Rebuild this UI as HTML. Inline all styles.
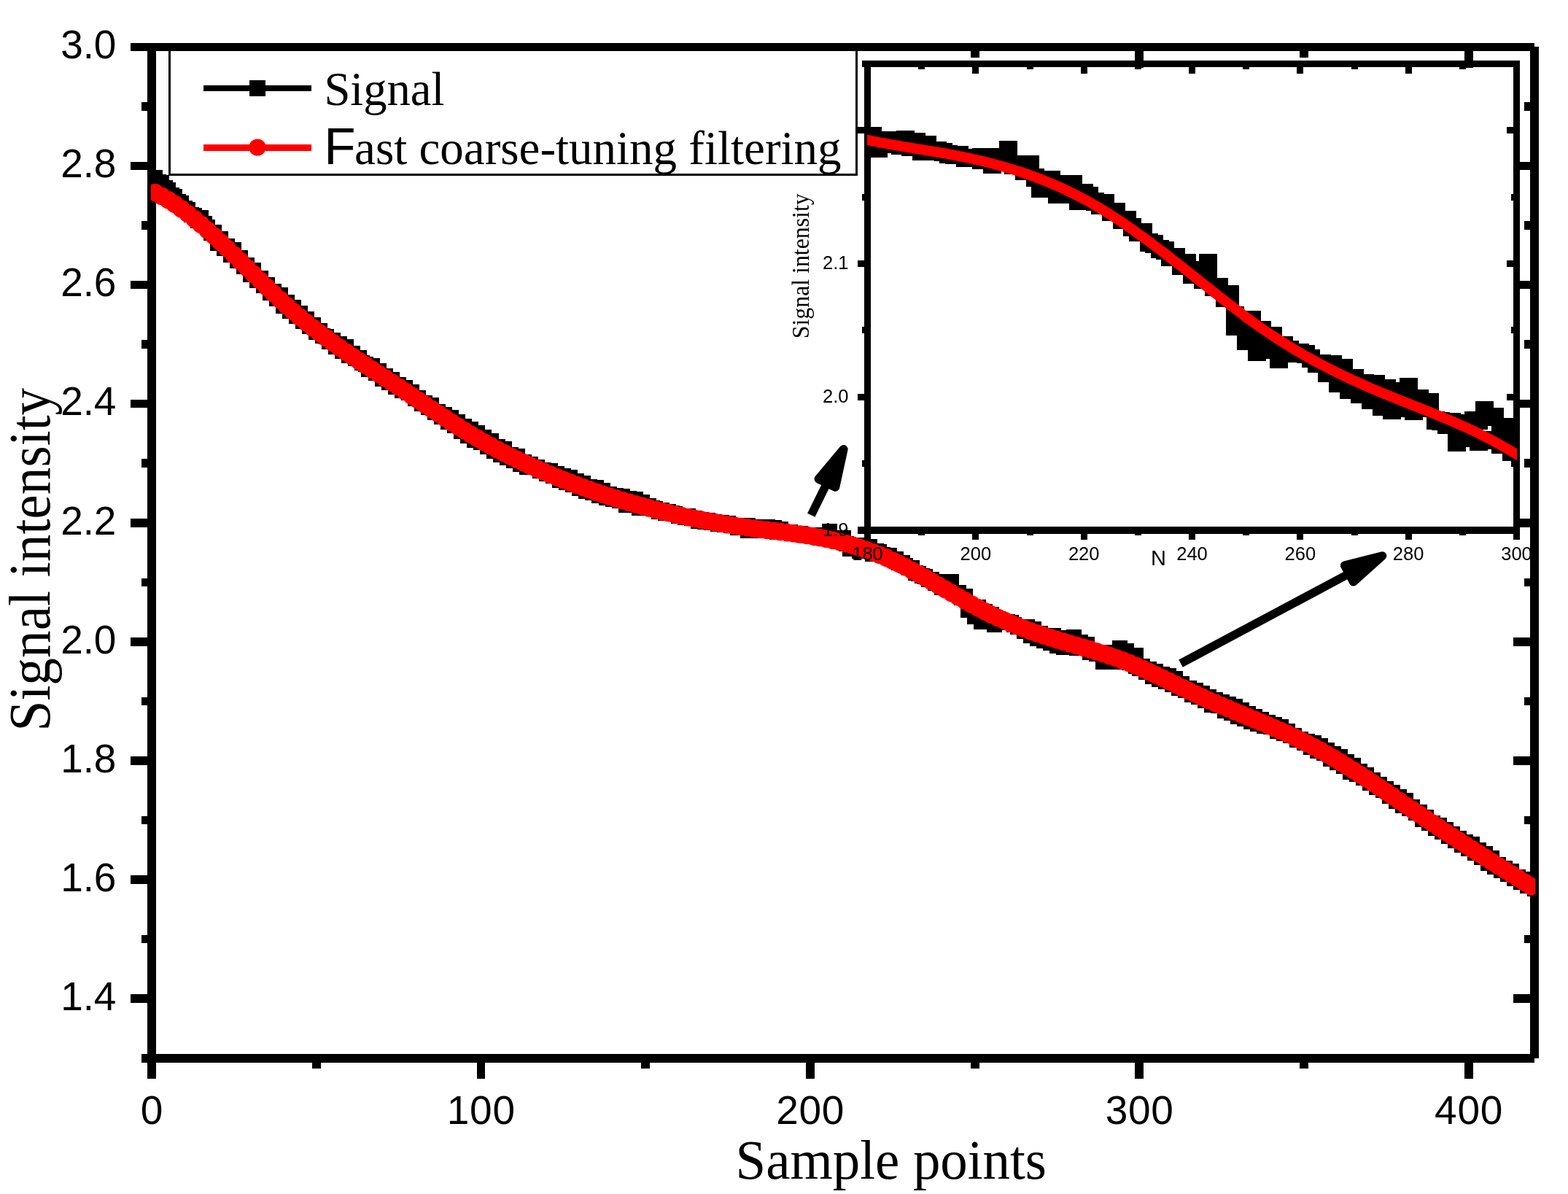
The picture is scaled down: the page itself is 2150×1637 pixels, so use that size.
<!DOCTYPE html>
<html lang="en">
<head>
<meta charset="utf-8">
<title>Signal intensity vs sample points</title>
<style>
html,body{margin:0;padding:0;background:#fff;}
body{width:2150px;height:1637px;overflow:hidden;}
svg{display:block;}
text{fill:#000;}
.sa{font-family:"Liberation Sans", Arial, Helvetica, sans-serif;}
.se{font-family:"Liberation Serif", "Times New Roman", Times, serif;}
</style>
</head>
<body>
<svg xmlns="http://www.w3.org/2000/svg" width="2150" height="1637" viewBox="0 0 2150 1637">
<rect width="2150" height="1637" fill="#fff"/>
<g id="main-axes" shape-rendering="crispEdges">
<rect x="202" y="59" width="1901.8" height="10.8" fill="#000"/>
<rect x="202" y="1445" width="1901.8" height="11.9" fill="#000"/>
<rect x="202" y="59" width="11.9" height="1397.9" fill="#000"/>
<rect x="2098" y="64" width="11.9" height="1387" fill="#000"/>
<rect x="179" y="59" width="24" height="10.8" fill="#000"/>
<rect x="2075" y="59" width="24" height="10.8" fill="#000"/>
<rect x="194" y="140.1" width="9" height="11.6" fill="#000"/>
<rect x="2090" y="140.1" width="9" height="11.6" fill="#000"/>
<rect x="179" y="221.7" width="24" height="11.6" fill="#000"/>
<rect x="2075" y="221.7" width="24" height="11.6" fill="#000"/>
<rect x="194" y="303.2" width="9" height="11.6" fill="#000"/>
<rect x="2090" y="303.2" width="9" height="11.6" fill="#000"/>
<rect x="179" y="384.8" width="24" height="11.6" fill="#000"/>
<rect x="2075" y="384.8" width="24" height="11.6" fill="#000"/>
<rect x="194" y="466.3" width="9" height="11.6" fill="#000"/>
<rect x="2090" y="466.3" width="9" height="11.6" fill="#000"/>
<rect x="179" y="547.8" width="24" height="11.6" fill="#000"/>
<rect x="2075" y="547.8" width="24" height="11.6" fill="#000"/>
<rect x="194" y="629.4" width="9" height="11.6" fill="#000"/>
<rect x="2090" y="629.4" width="9" height="11.6" fill="#000"/>
<rect x="179" y="710.9" width="24" height="11.6" fill="#000"/>
<rect x="2075" y="710.9" width="24" height="11.6" fill="#000"/>
<rect x="194" y="792.5" width="9" height="11.6" fill="#000"/>
<rect x="2090" y="792.5" width="9" height="11.6" fill="#000"/>
<rect x="179" y="874" width="24" height="11.6" fill="#000"/>
<rect x="2075" y="874" width="24" height="11.6" fill="#000"/>
<rect x="194" y="955.5" width="9" height="11.6" fill="#000"/>
<rect x="2090" y="955.5" width="9" height="11.6" fill="#000"/>
<rect x="179" y="1037.1" width="24" height="11.6" fill="#000"/>
<rect x="2075" y="1037.1" width="24" height="11.6" fill="#000"/>
<rect x="194" y="1118.6" width="9" height="11.6" fill="#000"/>
<rect x="2090" y="1118.6" width="9" height="11.6" fill="#000"/>
<rect x="179" y="1200.2" width="24" height="11.6" fill="#000"/>
<rect x="2075" y="1200.2" width="24" height="11.6" fill="#000"/>
<rect x="194" y="1281.7" width="9" height="11.6" fill="#000"/>
<rect x="2090" y="1281.7" width="9" height="11.6" fill="#000"/>
<rect x="179" y="1363.2" width="24" height="11.6" fill="#000"/>
<rect x="2075" y="1363.2" width="24" height="11.6" fill="#000"/>
<rect x="194" y="1445" width="9" height="11.9" fill="#000"/>
<rect x="2090" y="1445" width="9" height="11.9" fill="#000"/>
<rect x="202" y="1455.9" width="11.9" height="22.9" fill="#000"/>
<rect x="202" y="68.8" width="11.9" height="23.9" fill="#000"/>
<rect x="427.8" y="1455.9" width="11.9" height="9" fill="#000"/>
<rect x="427.8" y="68.8" width="11.9" height="10" fill="#000"/>
<rect x="653.5" y="1455.9" width="11.9" height="22.9" fill="#000"/>
<rect x="653.5" y="68.8" width="11.9" height="23.9" fill="#000"/>
<rect x="879.2" y="1455.9" width="11.9" height="9" fill="#000"/>
<rect x="879.2" y="68.8" width="11.9" height="10" fill="#000"/>
<rect x="1104.9" y="1455.9" width="11.9" height="22.9" fill="#000"/>
<rect x="1104.9" y="68.8" width="11.9" height="23.9" fill="#000"/>
<rect x="1330.6" y="1455.9" width="11.9" height="9" fill="#000"/>
<rect x="1330.6" y="68.8" width="11.9" height="10" fill="#000"/>
<rect x="1556.3" y="1455.9" width="11.9" height="22.9" fill="#000"/>
<rect x="1556.3" y="68.8" width="11.9" height="23.9" fill="#000"/>
<rect x="1782" y="1455.9" width="11.9" height="9" fill="#000"/>
<rect x="1782" y="68.8" width="11.9" height="10" fill="#000"/>
<rect x="2007.7" y="1455.9" width="11.9" height="22.9" fill="#000"/>
<rect x="2007.7" y="68.8" width="11.9" height="23.9" fill="#000"/>
</g>
<defs><clipPath id="cm"><rect x="206.9" y="64.4" width="1898.2" height="1386.6"/></clipPath><clipPath id="ci"><rect x="1189" y="87.5" width="891.1" height="639.5"/></clipPath></defs>
<g id="main-data" clip-path="url(#cm)">
<g id="signal" fill="#000" shape-rendering="crispEdges">
<rect x="202" y="232.9" width="21" height="21"/>
<rect x="206.5" y="239.2" width="21" height="21"/>
<rect x="211" y="240.2" width="21" height="21"/>
<rect x="215.6" y="246.8" width="21" height="21"/>
<rect x="220.1" y="249.9" width="21" height="21"/>
<rect x="224.6" y="256.8" width="21" height="21"/>
<rect x="229.1" y="258.7" width="21" height="21"/>
<rect x="233.6" y="265.9" width="21" height="21"/>
<rect x="238.1" y="267.6" width="21" height="21"/>
<rect x="242.6" y="274.9" width="21" height="21"/>
<rect x="247.2" y="276.7" width="21" height="21"/>
<rect x="251.7" y="284.2" width="21" height="21"/>
<rect x="256.2" y="284.6" width="21" height="21"/>
<rect x="260.7" y="292.3" width="21" height="21"/>
<rect x="265.2" y="287.7" width="21" height="21"/>
<rect x="269.7" y="295.6" width="21" height="21"/>
<rect x="274.2" y="301.1" width="21" height="21"/>
<rect x="278.8" y="309.2" width="21" height="21"/>
<rect x="283.3" y="308" width="21" height="21"/>
<rect x="287.8" y="323.1" width="21" height="21"/>
<rect x="292.3" y="316.8" width="21" height="21"/>
<rect x="296.8" y="329.7" width="21" height="21"/>
<rect x="301.3" y="326.6" width="21" height="21"/>
<rect x="305.8" y="339" width="21" height="21"/>
<rect x="310.4" y="332.4" width="21" height="21"/>
<rect x="314.9" y="347.1" width="21" height="21"/>
<rect x="319.4" y="342.5" width="21" height="21"/>
<rect x="323.9" y="355" width="21" height="21"/>
<rect x="328.4" y="352.5" width="21" height="21"/>
<rect x="332.9" y="366.3" width="21" height="21"/>
<rect x="337.4" y="360.4" width="21" height="21"/>
<rect x="342" y="374" width="21" height="21"/>
<rect x="346.5" y="371.1" width="21" height="21"/>
<rect x="351" y="381" width="21" height="21"/>
<rect x="355.5" y="379.7" width="21" height="21"/>
<rect x="360" y="390.7" width="21" height="21"/>
<rect x="364.5" y="388.7" width="21" height="21"/>
<rect x="369" y="399" width="21" height="21"/>
<rect x="373.6" y="393.6" width="21" height="21"/>
<rect x="378.1" y="408.5" width="21" height="21"/>
<rect x="382.6" y="403.8" width="21" height="21"/>
<rect x="387.1" y="415.7" width="21" height="21"/>
<rect x="391.6" y="411.2" width="21" height="21"/>
<rect x="396.1" y="423.4" width="21" height="21"/>
<rect x="400.6" y="418.9" width="21" height="21"/>
<rect x="405.2" y="430.2" width="21" height="21"/>
<rect x="409.7" y="427.3" width="21" height="21"/>
<rect x="414.2" y="437.2" width="21" height="21"/>
<rect x="418.7" y="434.6" width="21" height="21"/>
<rect x="423.2" y="444.9" width="21" height="21"/>
<rect x="427.7" y="443.3" width="21" height="21"/>
<rect x="432.2" y="450.4" width="21" height="21"/>
<rect x="436.8" y="451.2" width="21" height="21"/>
<rect x="441.3" y="458.3" width="21" height="21"/>
<rect x="445.8" y="456.4" width="21" height="21"/>
<rect x="450.3" y="464.7" width="21" height="21"/>
<rect x="454.8" y="460.7" width="21" height="21"/>
<rect x="459.3" y="470.5" width="21" height="21"/>
<rect x="463.8" y="464.7" width="21" height="21"/>
<rect x="468.4" y="477.2" width="21" height="21"/>
<rect x="472.9" y="473.7" width="21" height="21"/>
<rect x="477.4" y="480.9" width="21" height="21"/>
<rect x="481.9" y="480.2" width="21" height="21"/>
<rect x="486.4" y="487" width="21" height="21"/>
<rect x="490.9" y="489" width="21" height="21"/>
<rect x="495.4" y="495.8" width="21" height="21"/>
<rect x="499.9" y="491.3" width="21" height="21"/>
<rect x="504.5" y="500.5" width="21" height="21"/>
<rect x="509" y="498.3" width="21" height="21"/>
<rect x="513.5" y="509.2" width="21" height="21"/>
<rect x="518" y="504.6" width="21" height="21"/>
<rect x="522.5" y="514.3" width="21" height="21"/>
<rect x="527" y="509.9" width="21" height="21"/>
<rect x="531.5" y="519.9" width="21" height="21"/>
<rect x="536.1" y="516.7" width="21" height="21"/>
<rect x="540.6" y="525.3" width="21" height="21"/>
<rect x="545.1" y="520.7" width="21" height="21"/>
<rect x="549.6" y="528.2" width="21" height="21"/>
<rect x="554.1" y="527.2" width="21" height="21"/>
<rect x="558.6" y="535.7" width="21" height="21"/>
<rect x="563.1" y="534.9" width="21" height="21"/>
<rect x="567.7" y="543.4" width="21" height="21"/>
<rect x="572.2" y="542.4" width="21" height="21"/>
<rect x="576.7" y="548.1" width="21" height="21"/>
<rect x="581.2" y="544.5" width="21" height="21"/>
<rect x="585.7" y="554.9" width="21" height="21"/>
<rect x="590.2" y="554.3" width="21" height="21"/>
<rect x="594.7" y="561" width="21" height="21"/>
<rect x="599.3" y="558" width="21" height="21"/>
<rect x="603.8" y="567.9" width="21" height="21"/>
<rect x="608.3" y="561.9" width="21" height="21"/>
<rect x="612.8" y="573" width="21" height="21"/>
<rect x="617.3" y="567.6" width="21" height="21"/>
<rect x="621.8" y="581.2" width="21" height="21"/>
<rect x="626.3" y="574" width="21" height="21"/>
<rect x="630.9" y="587.3" width="21" height="21"/>
<rect x="635.4" y="578.4" width="21" height="21"/>
<rect x="639.9" y="592.5" width="21" height="21"/>
<rect x="644.4" y="583.1" width="21" height="21"/>
<rect x="648.9" y="596" width="21" height="21"/>
<rect x="653.4" y="589" width="21" height="21"/>
<rect x="657.9" y="602.4" width="21" height="21"/>
<rect x="662.5" y="594.2" width="21" height="21"/>
<rect x="667" y="607.9" width="21" height="21"/>
<rect x="671.5" y="602" width="21" height="21"/>
<rect x="676" y="612.6" width="21" height="21"/>
<rect x="680.5" y="604.9" width="21" height="21"/>
<rect x="685" y="616.8" width="21" height="21"/>
<rect x="689.5" y="612.7" width="21" height="21"/>
<rect x="694.1" y="621.1" width="21" height="21"/>
<rect x="698.6" y="614.9" width="21" height="21"/>
<rect x="703.1" y="625.6" width="21" height="21"/>
<rect x="707.6" y="622.5" width="21" height="21"/>
<rect x="712.1" y="629.7" width="21" height="21"/>
<rect x="716.6" y="625.8" width="21" height="21"/>
<rect x="721.1" y="630.3" width="21" height="21"/>
<rect x="725.7" y="629.8" width="21" height="21"/>
<rect x="730.2" y="635.1" width="21" height="21"/>
<rect x="734.7" y="634" width="21" height="21"/>
<rect x="739.2" y="639.4" width="21" height="21"/>
<rect x="743.7" y="635.2" width="21" height="21"/>
<rect x="748.2" y="642.1" width="21" height="21"/>
<rect x="752.7" y="638.7" width="21" height="21"/>
<rect x="757.3" y="648" width="21" height="21"/>
<rect x="761.8" y="641.6" width="21" height="21"/>
<rect x="766.3" y="650.8" width="21" height="21"/>
<rect x="770.8" y="644" width="21" height="21"/>
<rect x="775.3" y="654.2" width="21" height="21"/>
<rect x="779.8" y="649.1" width="21" height="21"/>
<rect x="784.3" y="658.6" width="21" height="21"/>
<rect x="788.9" y="652.4" width="21" height="21"/>
<rect x="793.4" y="662.5" width="21" height="21"/>
<rect x="797.9" y="657.3" width="21" height="21"/>
<rect x="802.4" y="665" width="21" height="21"/>
<rect x="806.9" y="658.1" width="21" height="21"/>
<rect x="811.4" y="668.9" width="21" height="21"/>
<rect x="815.9" y="662.1" width="21" height="21"/>
<rect x="820.5" y="671.7" width="21" height="21"/>
<rect x="825" y="666.8" width="21" height="21"/>
<rect x="829.5" y="674" width="21" height="21"/>
<rect x="834" y="669" width="21" height="21"/>
<rect x="838.5" y="675.8" width="21" height="21"/>
<rect x="843" y="669.9" width="21" height="21"/>
<rect x="847.5" y="681.7" width="21" height="21"/>
<rect x="852.1" y="672.5" width="21" height="21"/>
<rect x="856.6" y="681.9" width="21" height="21"/>
<rect x="861.1" y="674" width="21" height="21"/>
<rect x="865.6" y="685.8" width="21" height="21"/>
<rect x="870.1" y="678" width="21" height="21"/>
<rect x="874.6" y="684.5" width="21" height="21"/>
<rect x="879.1" y="683.3" width="21" height="21"/>
<rect x="883.7" y="686.4" width="21" height="21"/>
<rect x="888.2" y="687.3" width="21" height="21"/>
<rect x="892.7" y="690.5" width="21" height="21"/>
<rect x="897.2" y="688.5" width="21" height="21"/>
<rect x="901.7" y="693.3" width="21" height="21"/>
<rect x="906.2" y="691.1" width="21" height="21"/>
<rect x="910.7" y="693.3" width="21" height="21"/>
<rect x="915.3" y="693.5" width="21" height="21"/>
<rect x="919.8" y="697.4" width="21" height="21"/>
<rect x="924.3" y="696.5" width="21" height="21"/>
<rect x="928.8" y="698.5" width="21" height="21"/>
<rect x="933.3" y="697.3" width="21" height="21"/>
<rect x="937.8" y="699.9" width="21" height="21"/>
<rect x="942.3" y="699.7" width="21" height="21"/>
<rect x="946.9" y="703.5" width="21" height="21"/>
<rect x="951.4" y="702.4" width="21" height="21"/>
<rect x="955.9" y="704.6" width="21" height="21"/>
<rect x="960.4" y="703.1" width="21" height="21"/>
<rect x="964.9" y="706.1" width="21" height="21"/>
<rect x="969.4" y="704.7" width="21" height="21"/>
<rect x="973.9" y="707.5" width="21" height="21"/>
<rect x="978.5" y="705.9" width="21" height="21"/>
<rect x="983" y="709" width="21" height="21"/>
<rect x="987.5" y="707.1" width="21" height="21"/>
<rect x="992" y="710.2" width="21" height="21"/>
<rect x="996.5" y="709.8" width="21" height="21"/>
<rect x="1001" y="713" width="21" height="21"/>
<rect x="1005.5" y="711.7" width="21" height="21"/>
<rect x="1010.1" y="713.3" width="21" height="21"/>
<rect x="1014.6" y="709.7" width="21" height="21"/>
<rect x="1014.6" y="717.1" width="21" height="21"/>
<rect x="1019.1" y="712.2" width="21" height="21"/>
<rect x="1019.1" y="717.1" width="21" height="21"/>
<rect x="1023.6" y="712.2" width="21" height="21"/>
<rect x="1023.6" y="714.6" width="21" height="21"/>
<rect x="1028.1" y="712.2" width="21" height="21"/>
<rect x="1028.1" y="714.6" width="21" height="21"/>
<rect x="1032.6" y="712.2" width="21" height="21"/>
<rect x="1032.6" y="714.6" width="21" height="21"/>
<rect x="1037.1" y="712.2" width="21" height="21"/>
<rect x="1037.1" y="715.3" width="21" height="21"/>
<rect x="1041.6" y="711.9" width="21" height="21"/>
<rect x="1041.6" y="715.3" width="21" height="21"/>
<rect x="1046.2" y="713.3" width="21" height="21"/>
<rect x="1046.2" y="716.2" width="21" height="21"/>
<rect x="1050.7" y="713.3" width="21" height="21"/>
<rect x="1050.7" y="716.2" width="21" height="21"/>
<rect x="1055.2" y="715.1" width="21" height="21"/>
<rect x="1055.2" y="718.9" width="21" height="21"/>
<rect x="1059.7" y="715.1" width="21" height="21"/>
<rect x="1059.7" y="718.9" width="21" height="21"/>
<rect x="1064.2" y="718.7" width="21" height="21"/>
<rect x="1068.7" y="718.7" width="21" height="21"/>
<rect x="1073.2" y="719.4" width="21" height="21"/>
<rect x="1077.8" y="720.9" width="21" height="21"/>
<rect x="1082.3" y="721.4" width="21" height="21"/>
<rect x="1086.8" y="721.4" width="21" height="21"/>
<rect x="1091.3" y="723" width="21" height="21"/>
<rect x="1095.8" y="723" width="21" height="21"/>
<rect x="1100.3" y="723" width="21" height="21"/>
<rect x="1104.8" y="722.6" width="21" height="21"/>
<rect x="1104.8" y="724.2" width="21" height="21"/>
<rect x="1109.4" y="722.6" width="21" height="21"/>
<rect x="1109.4" y="724.2" width="21" height="21"/>
<rect x="1113.9" y="722.6" width="21" height="21"/>
<rect x="1113.9" y="726.9" width="21" height="21"/>
<rect x="1118.4" y="722.6" width="21" height="21"/>
<rect x="1118.4" y="725.3" width="21" height="21"/>
<rect x="1122.9" y="722.6" width="21" height="21"/>
<rect x="1122.9" y="725.3" width="21" height="21"/>
<rect x="1127.4" y="718.2" width="21" height="21"/>
<rect x="1127.4" y="725.3" width="21" height="21"/>
<rect x="1131.9" y="727.4" width="21" height="21"/>
<rect x="1136.4" y="727.4" width="21" height="21"/>
<rect x="1141" y="727.1" width="21" height="21"/>
<rect x="1141" y="731.1" width="21" height="21"/>
<rect x="1145.5" y="727.1" width="21" height="21"/>
<rect x="1145.5" y="731.1" width="21" height="21"/>
<rect x="1150" y="735" width="21" height="21"/>
<rect x="1154.5" y="736.5" width="21" height="21"/>
<rect x="1154.5" y="741.8" width="21" height="21"/>
<rect x="1159" y="736.5" width="21" height="21"/>
<rect x="1159" y="741.8" width="21" height="21"/>
<rect x="1163.5" y="736.5" width="21" height="21"/>
<rect x="1163.5" y="741.8" width="21" height="21"/>
<rect x="1168" y="739.3" width="21" height="21"/>
<rect x="1168" y="745.4" width="21" height="21"/>
<rect x="1172.6" y="739.3" width="21" height="21"/>
<rect x="1172.6" y="745.4" width="21" height="21"/>
<rect x="1177.1" y="739.3" width="21" height="21"/>
<rect x="1177.1" y="745.4" width="21" height="21"/>
<rect x="1181.6" y="739.3" width="21" height="21"/>
<rect x="1181.6" y="745.4" width="21" height="21"/>
<rect x="1186.1" y="744.5" width="21" height="21"/>
<rect x="1186.1" y="749.4" width="21" height="21"/>
<rect x="1190.6" y="744.5" width="21" height="21"/>
<rect x="1190.6" y="749.4" width="21" height="21"/>
<rect x="1195.1" y="746.3" width="21" height="21"/>
<rect x="1195.1" y="749.4" width="21" height="21"/>
<rect x="1199.6" y="749.9" width="21" height="21"/>
<rect x="1204.2" y="750.7" width="21" height="21"/>
<rect x="1204.2" y="752.3" width="21" height="21"/>
<rect x="1208.7" y="750.7" width="21" height="21"/>
<rect x="1208.7" y="752.3" width="21" height="21"/>
<rect x="1213.2" y="756.2" width="21" height="21"/>
<rect x="1217.7" y="756.2" width="21" height="21"/>
<rect x="1222.2" y="761.1" width="21" height="21"/>
<rect x="1226.7" y="761.1" width="21" height="21"/>
<rect x="1231.2" y="765.4" width="21" height="21"/>
<rect x="1235.8" y="768.4" width="21" height="21"/>
<rect x="1240.3" y="768.4" width="21" height="21"/>
<rect x="1244.8" y="774.9" width="21" height="21"/>
<rect x="1249.3" y="775.5" width="21" height="21"/>
<rect x="1253.8" y="778.7" width="21" height="21"/>
<rect x="1258.3" y="779.9" width="21" height="21"/>
<rect x="1262.8" y="783.6" width="21" height="21"/>
<rect x="1267.4" y="783.6" width="21" height="21"/>
<rect x="1271.9" y="787.3" width="21" height="21"/>
<rect x="1271.9" y="789.1" width="21" height="21"/>
<rect x="1276.4" y="787.3" width="21" height="21"/>
<rect x="1276.4" y="789.1" width="21" height="21"/>
<rect x="1280.9" y="791.8" width="21" height="21"/>
<rect x="1280.9" y="794.5" width="21" height="21"/>
<rect x="1285.4" y="791.8" width="21" height="21"/>
<rect x="1285.4" y="794.5" width="21" height="21"/>
<rect x="1289.9" y="791.8" width="21" height="21"/>
<rect x="1289.9" y="797.6" width="21" height="21"/>
<rect x="1294.4" y="787.3" width="21" height="21"/>
<rect x="1294.4" y="797.6" width="21" height="21"/>
<rect x="1299" y="801.8" width="21" height="21"/>
<rect x="1303.5" y="801.8" width="21" height="21"/>
<rect x="1308" y="806.5" width="21" height="21"/>
<rect x="1308" y="808.7" width="21" height="21"/>
<rect x="1312.5" y="806.5" width="21" height="21"/>
<rect x="1312.5" y="808.7" width="21" height="21"/>
<rect x="1317" y="819.5" width="21" height="21"/>
<rect x="1317" y="826" width="21" height="21"/>
<rect x="1321.5" y="822.1" width="21" height="21"/>
<rect x="1321.5" y="826" width="21" height="21"/>
<rect x="1326" y="822.1" width="21" height="21"/>
<rect x="1326" y="834.9" width="21" height="21"/>
<rect x="1330.6" y="822.1" width="21" height="21"/>
<rect x="1330.6" y="834.9" width="21" height="21"/>
<rect x="1335.1" y="828.4" width="21" height="21"/>
<rect x="1335.1" y="841.8" width="21" height="21"/>
<rect x="1339.6" y="828.4" width="21" height="21"/>
<rect x="1339.6" y="840.4" width="21" height="21"/>
<rect x="1344.1" y="831.9" width="21" height="21"/>
<rect x="1344.1" y="840.4" width="21" height="21"/>
<rect x="1348.6" y="831.9" width="21" height="21"/>
<rect x="1348.6" y="840.4" width="21" height="21"/>
<rect x="1353.1" y="837.7" width="21" height="21"/>
<rect x="1353.1" y="846" width="21" height="21"/>
<rect x="1357.6" y="837.7" width="21" height="21"/>
<rect x="1357.6" y="842.7" width="21" height="21"/>
<rect x="1362.2" y="840.4" width="21" height="21"/>
<rect x="1362.2" y="842.7" width="21" height="21"/>
<rect x="1366.7" y="842.2" width="21" height="21"/>
<rect x="1371.2" y="842.2" width="21" height="21"/>
<rect x="1375.7" y="843.1" width="21" height="21"/>
<rect x="1380.2" y="845.7" width="21" height="21"/>
<rect x="1384.7" y="848.8" width="21" height="21"/>
<rect x="1389.2" y="848.8" width="21" height="21"/>
<rect x="1393.8" y="849.3" width="21" height="21"/>
<rect x="1393.8" y="854.5" width="21" height="21"/>
<rect x="1398.3" y="849.3" width="21" height="21"/>
<rect x="1398.3" y="854.5" width="21" height="21"/>
<rect x="1402.8" y="851.6" width="21" height="21"/>
<rect x="1402.8" y="860.9" width="21" height="21"/>
<rect x="1407.3" y="851.6" width="21" height="21"/>
<rect x="1407.3" y="860.9" width="21" height="21"/>
<rect x="1411.8" y="857.8" width="21" height="21"/>
<rect x="1411.8" y="864.8" width="21" height="21"/>
<rect x="1416.3" y="857.8" width="21" height="21"/>
<rect x="1416.3" y="864.8" width="21" height="21"/>
<rect x="1420.8" y="860.9" width="21" height="21"/>
<rect x="1420.8" y="867.5" width="21" height="21"/>
<rect x="1425.4" y="860.9" width="21" height="21"/>
<rect x="1425.4" y="867.5" width="21" height="21"/>
<rect x="1429.9" y="861.4" width="21" height="21"/>
<rect x="1429.9" y="871.2" width="21" height="21"/>
<rect x="1434.4" y="861.4" width="21" height="21"/>
<rect x="1434.4" y="871.2" width="21" height="21"/>
<rect x="1438.9" y="864.1" width="21" height="21"/>
<rect x="1438.9" y="875" width="21" height="21"/>
<rect x="1443.4" y="864.1" width="21" height="21"/>
<rect x="1443.4" y="875" width="21" height="21"/>
<rect x="1447.9" y="865.9" width="21" height="21"/>
<rect x="1447.9" y="877.3" width="21" height="21"/>
<rect x="1452.4" y="865.9" width="21" height="21"/>
<rect x="1452.4" y="876.1" width="21" height="21"/>
<rect x="1457" y="865.9" width="21" height="21"/>
<rect x="1457" y="876.1" width="21" height="21"/>
<rect x="1461.5" y="863.2" width="21" height="21"/>
<rect x="1461.5" y="876.1" width="21" height="21"/>
<rect x="1466" y="870.3" width="21" height="21"/>
<rect x="1466" y="877.9" width="21" height="21"/>
<rect x="1470.5" y="870.3" width="21" height="21"/>
<rect x="1470.5" y="876.1" width="21" height="21"/>
<rect x="1475" y="872.5" width="21" height="21"/>
<rect x="1475" y="876.1" width="21" height="21"/>
<rect x="1479.5" y="872.5" width="21" height="21"/>
<rect x="1479.5" y="876.1" width="21" height="21"/>
<rect x="1484" y="883.6" width="21" height="21"/>
<rect x="1488.6" y="884.2" width="21" height="21"/>
<rect x="1493.1" y="884.4" width="21" height="21"/>
<rect x="1493.1" y="886.2" width="21" height="21"/>
<rect x="1497.6" y="884.4" width="21" height="21"/>
<rect x="1497.6" y="886.2" width="21" height="21"/>
<rect x="1502.1" y="885.5" width="21" height="21"/>
<rect x="1502.1" y="897.1" width="21" height="21"/>
<rect x="1506.6" y="885.5" width="21" height="21"/>
<rect x="1506.6" y="894.4" width="21" height="21"/>
<rect x="1511.1" y="885.5" width="21" height="21"/>
<rect x="1511.1" y="894.4" width="21" height="21"/>
<rect x="1515.6" y="883.7" width="21" height="21"/>
<rect x="1515.6" y="894.4" width="21" height="21"/>
<rect x="1520.2" y="883.7" width="21" height="21"/>
<rect x="1520.2" y="896.5" width="21" height="21"/>
<rect x="1524.7" y="877.5" width="21" height="21"/>
<rect x="1524.7" y="895.7" width="21" height="21"/>
<rect x="1529.2" y="881.5" width="21" height="21"/>
<rect x="1529.2" y="895.7" width="21" height="21"/>
<rect x="1533.7" y="881.5" width="21" height="21"/>
<rect x="1533.7" y="895.7" width="21" height="21"/>
<rect x="1538.2" y="887.7" width="21" height="21"/>
<rect x="1538.2" y="898.2" width="21" height="21"/>
<rect x="1542.7" y="887.7" width="21" height="21"/>
<rect x="1542.7" y="898.2" width="21" height="21"/>
<rect x="1547.2" y="887.7" width="21" height="21"/>
<rect x="1547.2" y="902.9" width="21" height="21"/>
<rect x="1551.8" y="906.1" width="21" height="21"/>
<rect x="1556.3" y="902.9" width="21" height="21"/>
<rect x="1560.8" y="910.5" width="21" height="21"/>
<rect x="1565.3" y="906.5" width="21" height="21"/>
<rect x="1569.8" y="917.1" width="21" height="21"/>
<rect x="1574.3" y="910" width="21" height="21"/>
<rect x="1578.8" y="921" width="21" height="21"/>
<rect x="1583.4" y="913.8" width="21" height="21"/>
<rect x="1587.9" y="923.9" width="21" height="21"/>
<rect x="1592.4" y="916.2" width="21" height="21"/>
<rect x="1596.9" y="927.9" width="21" height="21"/>
<rect x="1601.4" y="920.2" width="21" height="21"/>
<rect x="1605.9" y="933.1" width="21" height="21"/>
<rect x="1610.4" y="926.7" width="21" height="21"/>
<rect x="1614.9" y="936" width="21" height="21"/>
<rect x="1619.5" y="933.2" width="21" height="21"/>
<rect x="1624" y="941.9" width="21" height="21"/>
<rect x="1628.5" y="936.4" width="21" height="21"/>
<rect x="1633" y="945" width="21" height="21"/>
<rect x="1637.5" y="940.3" width="21" height="21"/>
<rect x="1642" y="949.7" width="21" height="21"/>
<rect x="1646.5" y="945.1" width="21" height="21"/>
<rect x="1651.1" y="955.5" width="21" height="21"/>
<rect x="1655.6" y="948.5" width="21" height="21"/>
<rect x="1660.1" y="957.2" width="21" height="21"/>
<rect x="1664.6" y="951.5" width="21" height="21"/>
<rect x="1669.1" y="963.6" width="21" height="21"/>
<rect x="1673.6" y="955.3" width="21" height="21"/>
<rect x="1678.1" y="966.9" width="21" height="21"/>
<rect x="1682.7" y="958.4" width="21" height="21"/>
<rect x="1687.2" y="971.9" width="21" height="21"/>
<rect x="1691.7" y="963.2" width="21" height="21"/>
<rect x="1696.2" y="974.8" width="21" height="21"/>
<rect x="1700.7" y="968.2" width="21" height="21"/>
<rect x="1705.2" y="978.8" width="21" height="21"/>
<rect x="1709.7" y="972.3" width="21" height="21"/>
<rect x="1714.3" y="981.5" width="21" height="21"/>
<rect x="1718.8" y="975.5" width="21" height="21"/>
<rect x="1723.3" y="985.4" width="21" height="21"/>
<rect x="1727.8" y="979.5" width="21" height="21"/>
<rect x="1732.3" y="985.7" width="21" height="21"/>
<rect x="1736.8" y="983.3" width="21" height="21"/>
<rect x="1741.3" y="992" width="21" height="21"/>
<rect x="1745.9" y="986.3" width="21" height="21"/>
<rect x="1750.4" y="994.5" width="21" height="21"/>
<rect x="1754.9" y="992.1" width="21" height="21"/>
<rect x="1759.4" y="998.2" width="21" height="21"/>
<rect x="1763.9" y="997.5" width="21" height="21"/>
<rect x="1768.4" y="1004.2" width="21" height="21"/>
<rect x="1772.9" y="1002.5" width="21" height="21"/>
<rect x="1777.5" y="1008" width="21" height="21"/>
<rect x="1782" y="1006" width="21" height="21"/>
<rect x="1786.5" y="1013.7" width="21" height="21"/>
<rect x="1791" y="1007.9" width="21" height="21"/>
<rect x="1795.5" y="1018.6" width="21" height="21"/>
<rect x="1800" y="1011.9" width="21" height="21"/>
<rect x="1804.5" y="1022.4" width="21" height="21"/>
<rect x="1809.1" y="1017.5" width="21" height="21"/>
<rect x="1813.6" y="1030.2" width="21" height="21"/>
<rect x="1818.1" y="1023" width="21" height="21"/>
<rect x="1822.6" y="1035.4" width="21" height="21"/>
<rect x="1827.1" y="1026.6" width="21" height="21"/>
<rect x="1831.6" y="1040.3" width="21" height="21"/>
<rect x="1836.1" y="1034.2" width="21" height="21"/>
<rect x="1840.7" y="1047.5" width="21" height="21"/>
<rect x="1845.2" y="1039.3" width="21" height="21"/>
<rect x="1849.7" y="1050.9" width="21" height="21"/>
<rect x="1854.2" y="1046.6" width="21" height="21"/>
<rect x="1858.7" y="1056.4" width="21" height="21"/>
<rect x="1863.2" y="1052.1" width="21" height="21"/>
<rect x="1867.7" y="1063.1" width="21" height="21"/>
<rect x="1872.3" y="1058.7" width="21" height="21"/>
<rect x="1876.8" y="1069.2" width="21" height="21"/>
<rect x="1881.3" y="1064.8" width="21" height="21"/>
<rect x="1885.8" y="1073.4" width="21" height="21"/>
<rect x="1890.3" y="1071.4" width="21" height="21"/>
<rect x="1894.8" y="1081" width="21" height="21"/>
<rect x="1899.3" y="1075.8" width="21" height="21"/>
<rect x="1903.9" y="1087.8" width="21" height="21"/>
<rect x="1908.4" y="1082.1" width="21" height="21"/>
<rect x="1912.9" y="1094.2" width="21" height="21"/>
<rect x="1917.4" y="1087.4" width="21" height="21"/>
<rect x="1921.9" y="1098.4" width="21" height="21"/>
<rect x="1926.4" y="1096" width="21" height="21"/>
<rect x="1930.9" y="1103.9" width="21" height="21"/>
<rect x="1935.5" y="1102.7" width="21" height="21"/>
<rect x="1940" y="1113.3" width="21" height="21"/>
<rect x="1944.5" y="1110.3" width="21" height="21"/>
<rect x="1949" y="1117.9" width="21" height="21"/>
<rect x="1953.5" y="1117.5" width="21" height="21"/>
<rect x="1958" y="1124.9" width="21" height="21"/>
<rect x="1962.5" y="1121.2" width="21" height="21"/>
<rect x="1967.1" y="1130.2" width="21" height="21"/>
<rect x="1971.6" y="1127.2" width="21" height="21"/>
<rect x="1976.1" y="1135.9" width="21" height="21"/>
<rect x="1980.6" y="1132.6" width="21" height="21"/>
<rect x="1985.1" y="1141.7" width="21" height="21"/>
<rect x="1989.6" y="1138.6" width="21" height="21"/>
<rect x="1994.1" y="1147.6" width="21" height="21"/>
<rect x="1998.7" y="1143.7" width="21" height="21"/>
<rect x="2003.2" y="1153" width="21" height="21"/>
<rect x="2007.7" y="1147.1" width="21" height="21"/>
<rect x="2012.2" y="1158.8" width="21" height="21"/>
<rect x="2016.7" y="1154.8" width="21" height="21"/>
<rect x="2021.2" y="1164.6" width="21" height="21"/>
<rect x="2025.7" y="1160.4" width="21" height="21"/>
<rect x="2030.3" y="1172.7" width="21" height="21"/>
<rect x="2034.8" y="1166.2" width="21" height="21"/>
<rect x="2039.3" y="1178.2" width="21" height="21"/>
<rect x="2043.8" y="1174.9" width="21" height="21"/>
<rect x="2048.3" y="1182.8" width="21" height="21"/>
<rect x="2052.8" y="1180.4" width="21" height="21"/>
<rect x="2057.3" y="1188.1" width="21" height="21"/>
<rect x="2061.9" y="1184.2" width="21" height="21"/>
<rect x="2066.4" y="1193.5" width="21" height="21"/>
<rect x="2070.9" y="1191.8" width="21" height="21"/>
<rect x="2075.4" y="1198.5" width="21" height="21"/>
<rect x="2079.9" y="1194.6" width="21" height="21"/>
<rect x="2084.4" y="1203.6" width="21" height="21"/>
<rect x="2088.9" y="1200.4" width="21" height="21"/>
<rect x="2093.5" y="1207.7" width="21" height="21"/>
</g>
<g id="filtered" fill="#f00">
<polyline points="212.5,264 217,266.3 221.5,268.7 226.1,271.3 230.6,274 235.1,276.9 239.6,279.8 244.1,283 248.6,286.2 253.1,289.5 257.7,293 262.2,296.5 266.7,300.2 271.2,303.9 275.7,307.7 280.2,311.6 284.7,315.6 289.3,319.7 293.8,323.8 298.3,328 302.8,332.2 307.3,336.5 311.8,340.8 316.3,345.1 320.9,349.5 325.4,353.9 329.9,358.3 334.4,362.8 338.9,367.2 343.4,371.7 347.9,376.1 352.5,380.5 357,384.9 361.5,389.3 366,393.7 370.5,398.1 375,402.4 379.5,406.6 384.1,410.8 388.6,415 393.1,419.1 397.6,423.1 402.1,427.1 406.6,431 411.1,434.8 415.7,438.6 420.2,442.3 424.7,445.9 429.2,449.5 433.7,453 438.2,456.4 442.7,459.8 447.3,463.2 451.8,466.5 456.3,469.8 460.8,473 465.3,476.2 469.8,479.4 474.3,482.5 478.9,485.6 483.4,488.7 487.9,491.8 492.4,494.8 496.9,497.8 501.4,500.8 505.9,503.8 510.4,506.7 515,509.7 519.5,512.7 524,515.6 528.5,518.6 533,521.5 537.5,524.5 542,527.5 546.6,530.5 551.1,533.5 555.6,536.5 560.1,539.5 564.6,542.5 569.1,545.6 573.6,548.6 578.2,551.7 582.7,554.7 587.2,557.8 591.7,560.8 596.2,563.8 600.7,566.8 605.2,569.8 609.8,572.8 614.3,575.8 618.8,578.7 623.3,581.6 627.8,584.5 632.3,587.4 636.8,590.2 641.4,593 645.9,595.7 650.4,598.5 654.9,601.1 659.4,603.7 663.9,606.3 668.4,608.9 673,611.4 677.5,613.8 682,616.2 686.5,618.6 691,621 695.5,623.3 700,625.5 704.6,627.8 709.1,630 713.6,632.1 718.1,634.3 722.6,636.4 727.1,638.5 731.6,640.5 736.2,642.5 740.7,644.5 745.2,646.5 749.7,648.4 754.2,650.3 758.7,652.2 763.2,654.1 767.8,655.9 772.3,657.7 776.8,659.5 781.3,661.3 785.8,663 790.3,664.7 794.8,666.4 799.4,668.1 803.9,669.7 808.4,671.3 812.9,672.9 817.4,674.5 821.9,676 826.4,677.5 831,679 835.5,680.5 840,681.9 844.5,683.4 849,684.8 853.5,686.1 858,687.5 862.6,688.8 867.1,690.1 871.6,691.4 876.1,692.7 880.6,693.9 885.1,695.2 889.6,696.4 894.2,697.5 898.7,698.7 903.2,699.8 907.7,701 912.2,702.1 916.7,703.1 921.2,704.2 925.8,705.2 930.3,706.2 934.8,707.2 939.3,708.2 943.8,709.2 948.3,710.1 952.8,711 957.4,711.9 961.9,712.8 966.4,713.7 970.9,714.5 975.4,715.3 979.9,716.1 984.4,716.9 989,717.7 993.5,718.5 998,719.2 1002.5,719.9 1007,720.6 1011.5,721.3 1016,722 1020.6,722.7 1025.1,723.3 1029.6,723.9 1034.1,724.6 1038.6,725.1 1043.1,725.7 1047.6,726.3 1052.1,726.9 1056.7,727.4 1061.2,727.9 1065.7,728.5 1070.2,729 1074.7,729.6 1079.2,730.1 1083.7,730.7 1088.3,731.3 1092.8,731.9 1097.3,732.5 1101.8,733.2 1106.3,733.9 1110.8,734.6 1115.3,735.4 1119.9,736.2 1124.4,737 1128.9,737.9 1133.4,738.8 1137.9,739.8 1142.4,740.8 1146.9,741.8 1151.5,742.9 1156,744.1 1160.5,745.3 1165,746.6 1169.5,747.9 1174,749.2 1178.5,750.7 1183.1,752.1 1187.6,753.7 1192.1,755.3 1196.6,757 1201.1,758.7 1205.6,760.6 1210.1,762.4 1214.7,764.4 1219.2,766.4 1223.7,768.5 1228.2,770.7 1232.7,772.9 1237.2,775.1 1241.7,777.4 1246.3,779.8 1250.8,782.2 1255.3,784.6 1259.8,787.1 1264.3,789.6 1268.8,792.1 1273.3,794.7 1277.9,797.3 1282.4,799.9 1286.9,802.5 1291.4,805.1 1295.9,807.7 1300.4,810.4 1304.9,813 1309.5,815.6 1314,818.2 1318.5,820.8 1323,823.4 1327.5,826 1332,828.5 1336.5,831 1341.1,833.4 1345.6,835.8 1350.1,838.1 1354.6,840.4 1359.1,842.6 1363.6,844.7 1368.1,846.8 1372.7,848.9 1377.2,850.9 1381.7,852.8 1386.2,854.7 1390.7,856.6 1395.2,858.4 1399.7,860.1 1404.3,861.9 1408.8,863.5 1413.3,865.2 1417.8,866.8 1422.3,868.4 1426.8,869.9 1431.3,871.4 1435.9,872.9 1440.4,874.3 1444.9,875.7 1449.4,877.1 1453.9,878.5 1458.4,879.8 1462.9,881.2 1467.5,882.5 1472,883.8 1476.5,885.1 1481,886.4 1485.5,887.7 1490,889.1 1494.5,890.4 1499.1,891.8 1503.6,893.2 1508.1,894.6 1512.6,896 1517.1,897.5 1521.6,899 1526.1,900.5 1530.7,902.2 1535.2,903.8 1539.7,905.5 1544.2,907.3 1548.7,909.1 1553.2,911 1557.7,912.9 1562.3,914.9 1566.8,916.9 1571.3,918.9 1575.8,921 1580.3,923.1 1584.8,925.2 1589.3,927.3 1593.9,929.5 1598.4,931.7 1602.9,933.9 1607.4,936.1 1611.9,938.3 1616.4,940.5 1620.9,942.7 1625.4,944.9 1630,947 1634.5,949.2 1639,951.3 1643.5,953.5 1648,955.6 1652.5,957.6 1657,959.7 1661.6,961.7 1666.1,963.7 1670.6,965.6 1675.1,967.6 1679.6,969.5 1684.1,971.4 1688.6,973.3 1693.2,975.2 1697.7,977.1 1702.2,979 1706.7,980.8 1711.2,982.7 1715.7,984.6 1720.2,986.5 1724.8,988.4 1729.3,990.3 1733.8,992.2 1738.3,994.1 1742.8,996.1 1747.3,998 1751.8,1000 1756.4,1002 1760.9,1004.1 1765.4,1006.1 1769.9,1008.2 1774.4,1010.4 1778.9,1012.5 1783.4,1014.7 1788,1017 1792.5,1019.3 1797,1021.6 1801.5,1024 1806,1026.4 1810.5,1028.9 1815,1031.4 1819.6,1034 1824.1,1036.6 1828.6,1039.3 1833.1,1042 1837.6,1044.7 1842.1,1047.5 1846.6,1050.3 1851.2,1053.1 1855.7,1056 1860.2,1058.8 1864.7,1061.7 1869.2,1064.7 1873.7,1067.6 1878.2,1070.6 1882.8,1073.6 1887.3,1076.6 1891.8,1079.7 1896.3,1082.7 1900.8,1085.7 1905.3,1088.8 1909.8,1091.9 1914.4,1094.9 1918.9,1098 1923.4,1101.1 1927.9,1104.2 1932.4,1107.2 1936.9,1110.3 1941.4,1113.4 1946,1116.4 1950.5,1119.5 1955,1122.5 1959.5,1125.5 1964,1128.6 1968.5,1131.6 1973,1134.6 1977.6,1137.5 1982.1,1140.5 1986.6,1143.5 1991.1,1146.4 1995.6,1149.4 2000.1,1152.3 2004.6,1155.3 2009.2,1158.2 2013.7,1161.1 2018.2,1164 2022.7,1166.9 2027.2,1169.8 2031.7,1172.7 2036.2,1175.5 2040.8,1178.4 2045.3,1181.3 2049.8,1184.1 2054.3,1187 2058.8,1189.8 2063.3,1192.6 2067.8,1195.5 2072.4,1198.3 2076.9,1201.1 2081.4,1203.9 2085.9,1206.7 2090.4,1209.5 2094.9,1212.3 2099.4,1215.1 2104,1217.9" fill="none" stroke="#f00" stroke-width="12" stroke-linejoin="round"/>
<circle cx="212.5" cy="264" r="12.3"/>
<circle cx="221.5" cy="268.7" r="12.3"/>
<circle cx="230.6" cy="274" r="12.3"/>
<circle cx="239.6" cy="279.8" r="12.3"/>
<circle cx="248.6" cy="286.2" r="12.3"/>
<circle cx="257.7" cy="293" r="12.3"/>
<circle cx="266.7" cy="300.2" r="12.3"/>
<circle cx="275.7" cy="307.7" r="12.3"/>
<circle cx="284.7" cy="315.6" r="12.3"/>
<circle cx="293.8" cy="323.8" r="12.3"/>
<circle cx="302.8" cy="332.2" r="12.3"/>
<circle cx="311.8" cy="340.8" r="12.3"/>
<circle cx="320.9" cy="349.5" r="12.3"/>
<circle cx="329.9" cy="358.3" r="12.3"/>
<circle cx="338.9" cy="367.2" r="12.3"/>
<circle cx="347.9" cy="376.1" r="12.3"/>
<circle cx="357" cy="384.9" r="12.3"/>
<circle cx="366" cy="393.7" r="12.3"/>
<circle cx="375" cy="402.4" r="12.3"/>
<circle cx="384.1" cy="410.8" r="12.3"/>
<circle cx="393.1" cy="419.1" r="12.3"/>
<circle cx="402.1" cy="427.1" r="12.3"/>
<circle cx="411.1" cy="434.8" r="12.3"/>
<circle cx="420.2" cy="442.3" r="12.3"/>
<circle cx="429.2" cy="449.5" r="12.3"/>
<circle cx="438.2" cy="456.4" r="12.3"/>
<circle cx="447.3" cy="463.2" r="12.3"/>
<circle cx="456.3" cy="469.8" r="12.3"/>
<circle cx="465.3" cy="476.2" r="12.3"/>
<circle cx="474.3" cy="482.5" r="12.3"/>
<circle cx="483.4" cy="488.7" r="12.3"/>
<circle cx="492.4" cy="494.8" r="12.3"/>
<circle cx="501.4" cy="500.8" r="12.3"/>
<circle cx="510.4" cy="506.7" r="12.3"/>
<circle cx="519.5" cy="512.7" r="12.3"/>
<circle cx="528.5" cy="518.6" r="12.3"/>
<circle cx="537.5" cy="524.5" r="12.3"/>
<circle cx="546.6" cy="530.5" r="12.3"/>
<circle cx="555.6" cy="536.5" r="12.3"/>
<circle cx="564.6" cy="542.5" r="12.3"/>
<circle cx="573.6" cy="548.6" r="12.3"/>
<circle cx="582.7" cy="554.7" r="12.3"/>
<circle cx="591.7" cy="560.8" r="12.3"/>
<circle cx="600.7" cy="566.8" r="12.3"/>
<circle cx="609.8" cy="572.8" r="12.3"/>
<circle cx="618.8" cy="578.7" r="12.3"/>
<circle cx="627.8" cy="584.5" r="12.3"/>
<circle cx="636.8" cy="590.2" r="12.3"/>
<circle cx="645.9" cy="595.7" r="12.3"/>
<circle cx="654.9" cy="601.1" r="12.3"/>
<circle cx="663.9" cy="606.3" r="12.3"/>
<circle cx="673" cy="611.4" r="12.3"/>
<circle cx="682" cy="616.2" r="12.3"/>
<circle cx="691" cy="621" r="12.3"/>
<circle cx="700" cy="625.5" r="12.3"/>
<circle cx="709.1" cy="630" r="12.3"/>
<circle cx="718.1" cy="634.3" r="12.3"/>
<circle cx="727.1" cy="638.5" r="12.3"/>
<circle cx="736.2" cy="642.5" r="12.3"/>
<circle cx="745.2" cy="646.5" r="12.3"/>
<circle cx="754.2" cy="650.3" r="12.3"/>
<circle cx="763.2" cy="654.1" r="12.3"/>
<circle cx="772.3" cy="657.7" r="12.3"/>
<circle cx="781.3" cy="661.3" r="12.3"/>
<circle cx="790.3" cy="664.7" r="12.3"/>
<circle cx="799.4" cy="668.1" r="12.3"/>
<circle cx="808.4" cy="671.3" r="12.3"/>
<circle cx="817.4" cy="674.5" r="12.3"/>
<circle cx="826.4" cy="677.5" r="12.3"/>
<circle cx="835.5" cy="680.5" r="12.3"/>
<circle cx="844.5" cy="683.4" r="12.3"/>
<circle cx="853.5" cy="686.1" r="12.3"/>
<circle cx="862.6" cy="688.8" r="12.3"/>
<circle cx="871.6" cy="691.4" r="12.3"/>
<circle cx="880.6" cy="693.9" r="12.3"/>
<circle cx="889.6" cy="696.4" r="12.3"/>
<circle cx="898.7" cy="698.7" r="12.3"/>
<circle cx="907.7" cy="701" r="12.3"/>
<circle cx="916.7" cy="703.1" r="12.3"/>
<circle cx="925.8" cy="705.2" r="12.3"/>
<circle cx="934.8" cy="707.2" r="12.3"/>
<circle cx="943.8" cy="709.2" r="12.3"/>
<circle cx="952.8" cy="711" r="12.3"/>
<circle cx="961.9" cy="712.8" r="12.3"/>
<circle cx="970.9" cy="714.5" r="12.3"/>
<circle cx="979.9" cy="716.1" r="12.3"/>
<circle cx="989" cy="717.7" r="12.3"/>
<circle cx="998" cy="719.2" r="12.3"/>
<circle cx="1007" cy="720.6" r="12.3"/>
<circle cx="1016" cy="722" r="12.3"/>
<circle cx="1025.1" cy="723.3" r="12.3"/>
<circle cx="1034.1" cy="724.6" r="12.3"/>
<circle cx="1043.1" cy="725.7" r="12.3"/>
<circle cx="1052.1" cy="726.9" r="12.3"/>
<circle cx="1061.2" cy="727.9" r="12.3"/>
<circle cx="1070.2" cy="729" r="12.3"/>
<circle cx="1079.2" cy="730.1" r="12.3"/>
<circle cx="1088.3" cy="731.3" r="12.3"/>
<circle cx="1097.3" cy="732.5" r="12.3"/>
<circle cx="1106.3" cy="733.9" r="12.3"/>
<circle cx="1115.3" cy="735.4" r="12.3"/>
<circle cx="1124.4" cy="737" r="12.3"/>
<circle cx="1133.4" cy="738.8" r="12.3"/>
<circle cx="1142.4" cy="740.8" r="12.3"/>
<circle cx="1151.5" cy="742.9" r="12.3"/>
<circle cx="1160.5" cy="745.3" r="12.3"/>
<circle cx="1169.5" cy="747.9" r="12.3"/>
<circle cx="1178.5" cy="750.7" r="12.3"/>
<circle cx="1187.6" cy="753.7" r="12.3"/>
<circle cx="1196.6" cy="757" r="12.3"/>
<circle cx="1205.6" cy="760.6" r="12.3"/>
<circle cx="1214.7" cy="764.4" r="12.3"/>
<circle cx="1223.7" cy="768.5" r="12.3"/>
<circle cx="1232.7" cy="772.9" r="12.3"/>
<circle cx="1241.7" cy="777.4" r="12.3"/>
<circle cx="1250.8" cy="782.2" r="12.3"/>
<circle cx="1259.8" cy="787.1" r="12.3"/>
<circle cx="1268.8" cy="792.1" r="12.3"/>
<circle cx="1277.9" cy="797.3" r="12.3"/>
<circle cx="1286.9" cy="802.5" r="12.3"/>
<circle cx="1295.9" cy="807.7" r="12.3"/>
<circle cx="1304.9" cy="813" r="12.3"/>
<circle cx="1314" cy="818.2" r="12.3"/>
<circle cx="1323" cy="823.4" r="12.3"/>
<circle cx="1332" cy="828.5" r="12.3"/>
<circle cx="1341.1" cy="833.4" r="12.3"/>
<circle cx="1350.1" cy="838.1" r="12.3"/>
<circle cx="1359.1" cy="842.6" r="12.3"/>
<circle cx="1368.1" cy="846.8" r="12.3"/>
<circle cx="1377.2" cy="850.9" r="12.3"/>
<circle cx="1386.2" cy="854.7" r="12.3"/>
<circle cx="1395.2" cy="858.4" r="12.3"/>
<circle cx="1404.3" cy="861.9" r="12.3"/>
<circle cx="1413.3" cy="865.2" r="12.3"/>
<circle cx="1422.3" cy="868.4" r="12.3"/>
<circle cx="1431.3" cy="871.4" r="12.3"/>
<circle cx="1440.4" cy="874.3" r="12.3"/>
<circle cx="1449.4" cy="877.1" r="12.3"/>
<circle cx="1458.4" cy="879.8" r="12.3"/>
<circle cx="1467.5" cy="882.5" r="12.3"/>
<circle cx="1476.5" cy="885.1" r="12.3"/>
<circle cx="1485.5" cy="887.7" r="12.3"/>
<circle cx="1494.5" cy="890.4" r="12.3"/>
<circle cx="1503.6" cy="893.2" r="12.3"/>
<circle cx="1512.6" cy="896" r="12.3"/>
<circle cx="1521.6" cy="899" r="12.3"/>
<circle cx="1530.7" cy="902.2" r="12.3"/>
<circle cx="1539.7" cy="905.5" r="12.3"/>
<circle cx="1548.7" cy="909.1" r="12.3"/>
<circle cx="1557.7" cy="912.9" r="12.3"/>
<circle cx="1566.8" cy="916.9" r="12.3"/>
<circle cx="1575.8" cy="921" r="12.3"/>
<circle cx="1584.8" cy="925.2" r="12.3"/>
<circle cx="1593.9" cy="929.5" r="12.3"/>
<circle cx="1602.9" cy="933.9" r="12.3"/>
<circle cx="1611.9" cy="938.3" r="12.3"/>
<circle cx="1620.9" cy="942.7" r="12.3"/>
<circle cx="1630" cy="947" r="12.3"/>
<circle cx="1639" cy="951.3" r="12.3"/>
<circle cx="1648" cy="955.6" r="12.3"/>
<circle cx="1657" cy="959.7" r="12.3"/>
<circle cx="1666.1" cy="963.7" r="12.3"/>
<circle cx="1675.1" cy="967.6" r="12.3"/>
<circle cx="1684.1" cy="971.4" r="12.3"/>
<circle cx="1693.2" cy="975.2" r="12.3"/>
<circle cx="1702.2" cy="979" r="12.3"/>
<circle cx="1711.2" cy="982.7" r="12.3"/>
<circle cx="1720.2" cy="986.5" r="12.3"/>
<circle cx="1729.3" cy="990.3" r="12.3"/>
<circle cx="1738.3" cy="994.1" r="12.3"/>
<circle cx="1747.3" cy="998" r="12.3"/>
<circle cx="1756.4" cy="1002" r="12.3"/>
<circle cx="1765.4" cy="1006.1" r="12.3"/>
<circle cx="1774.4" cy="1010.4" r="12.3"/>
<circle cx="1783.4" cy="1014.7" r="12.3"/>
<circle cx="1792.5" cy="1019.3" r="12.3"/>
<circle cx="1801.5" cy="1024" r="12.3"/>
<circle cx="1810.5" cy="1028.9" r="12.3"/>
<circle cx="1819.6" cy="1034" r="12.3"/>
<circle cx="1828.6" cy="1039.3" r="12.3"/>
<circle cx="1837.6" cy="1044.7" r="12.3"/>
<circle cx="1846.6" cy="1050.3" r="12.3"/>
<circle cx="1855.7" cy="1056" r="12.3"/>
<circle cx="1864.7" cy="1061.7" r="12.3"/>
<circle cx="1873.7" cy="1067.6" r="12.3"/>
<circle cx="1882.8" cy="1073.6" r="12.3"/>
<circle cx="1891.8" cy="1079.7" r="12.3"/>
<circle cx="1900.8" cy="1085.7" r="12.3"/>
<circle cx="1909.8" cy="1091.9" r="12.3"/>
<circle cx="1918.9" cy="1098" r="12.3"/>
<circle cx="1927.9" cy="1104.2" r="12.3"/>
<circle cx="1936.9" cy="1110.3" r="12.3"/>
<circle cx="1946" cy="1116.4" r="12.3"/>
<circle cx="1955" cy="1122.5" r="12.3"/>
<circle cx="1964" cy="1128.6" r="12.3"/>
<circle cx="1973" cy="1134.6" r="12.3"/>
<circle cx="1982.1" cy="1140.5" r="12.3"/>
<circle cx="1991.1" cy="1146.4" r="12.3"/>
<circle cx="2000.1" cy="1152.3" r="12.3"/>
<circle cx="2009.2" cy="1158.2" r="12.3"/>
<circle cx="2018.2" cy="1164" r="12.3"/>
<circle cx="2027.2" cy="1169.8" r="12.3"/>
<circle cx="2036.2" cy="1175.5" r="12.3"/>
<circle cx="2045.3" cy="1181.3" r="12.3"/>
<circle cx="2054.3" cy="1187" r="12.3"/>
<circle cx="2063.3" cy="1192.6" r="12.3"/>
<circle cx="2072.4" cy="1198.3" r="12.3"/>
<circle cx="2081.4" cy="1203.9" r="12.3"/>
<circle cx="2090.4" cy="1209.5" r="12.3"/>
<circle cx="2099.4" cy="1215.1" r="12.3"/>
</g>
</g>
<g id="arrows">
<line x1="1112.3" y1="706.3" x2="1133.9" y2="662.3" stroke="#000" stroke-width="11.6"/>
<polygon points="1156.7,615.9 1145.4,667.9 1122.4,656.7" fill="#000" stroke="#000" stroke-width="11.8" stroke-linejoin="round"/>
<line x1="1619" y1="909.7" x2="1849.8" y2="786.5" stroke="#000" stroke-width="11.6"/>
<polygon points="1895.4,762.1 1855.8,797.7 1843.8,775.2" fill="#000" stroke="#000" stroke-width="11.8" stroke-linejoin="round"/>
</g>
<g id="inset-axes" shape-rendering="crispEdges">
<rect x="1185.1" y="83.1" width="898.8" height="8.8" fill="#000"/>
<rect x="1185.1" y="722" width="898.8" height="9.9" fill="#000"/>
<rect x="1185.1" y="83.1" width="8.8" height="648.8" fill="#000"/>
<rect x="2075" y="83.1" width="8.8" height="648.8" fill="#000"/>
<rect x="1176.2" y="722" width="9.9" height="9.9" fill="#000"/>
<rect x="2066.1" y="722" width="9.9" height="9.9" fill="#000"/>
<rect x="1182.1" y="631.1" width="4" height="9" fill="#000"/>
<rect x="2072" y="631.1" width="4" height="9" fill="#000"/>
<rect x="1176.2" y="539.7" width="9.9" height="9" fill="#000"/>
<rect x="2066.1" y="539.7" width="9.9" height="9" fill="#000"/>
<rect x="1182.1" y="448.3" width="4" height="9" fill="#000"/>
<rect x="2072" y="448.3" width="4" height="9" fill="#000"/>
<rect x="1176.2" y="357" width="9.9" height="9" fill="#000"/>
<rect x="2066.1" y="357" width="9.9" height="9" fill="#000"/>
<rect x="1182.1" y="265.6" width="4" height="9" fill="#000"/>
<rect x="2072" y="265.6" width="4" height="9" fill="#000"/>
<rect x="1176.2" y="174.2" width="9.9" height="9" fill="#000"/>
<rect x="2066.1" y="174.2" width="9.9" height="9" fill="#000"/>
<rect x="1182.1" y="83.1" width="4" height="8.8" fill="#000"/>
<rect x="2072" y="83.1" width="4" height="8.8" fill="#000"/>
<rect x="1185.1" y="730.9" width="8.8" height="8.8" fill="#000"/>
<rect x="1185.1" y="90.8" width="8.8" height="9.8" fill="#000"/>
<rect x="1259.2" y="730.9" width="9" height="3.2" fill="#000"/>
<rect x="1259.2" y="90.8" width="9" height="4.2" fill="#000"/>
<rect x="1333.3" y="730.9" width="9" height="8.8" fill="#000"/>
<rect x="1333.3" y="90.8" width="9" height="9.8" fill="#000"/>
<rect x="1407.5" y="730.9" width="9" height="3.2" fill="#000"/>
<rect x="1407.5" y="90.8" width="9" height="4.2" fill="#000"/>
<rect x="1481.7" y="730.9" width="9" height="8.8" fill="#000"/>
<rect x="1481.7" y="90.8" width="9" height="9.8" fill="#000"/>
<rect x="1555.8" y="730.9" width="9" height="3.2" fill="#000"/>
<rect x="1555.8" y="90.8" width="9" height="4.2" fill="#000"/>
<rect x="1630" y="730.9" width="9" height="8.8" fill="#000"/>
<rect x="1630" y="90.8" width="9" height="9.8" fill="#000"/>
<rect x="1704.1" y="730.9" width="9" height="3.2" fill="#000"/>
<rect x="1704.1" y="90.8" width="9" height="4.2" fill="#000"/>
<rect x="1778.3" y="730.9" width="9" height="8.8" fill="#000"/>
<rect x="1778.3" y="90.8" width="9" height="9.8" fill="#000"/>
<rect x="1852.5" y="730.9" width="9" height="3.2" fill="#000"/>
<rect x="1852.5" y="90.8" width="9" height="4.2" fill="#000"/>
<rect x="1926.6" y="730.9" width="9" height="8.8" fill="#000"/>
<rect x="1926.6" y="90.8" width="9" height="9.8" fill="#000"/>
<rect x="2000.8" y="730.9" width="9" height="3.2" fill="#000"/>
<rect x="2000.8" y="90.8" width="9" height="4.2" fill="#000"/>
<rect x="2075" y="730.9" width="8.8" height="8.8" fill="#000"/>
<rect x="2075" y="90.8" width="8.8" height="9.8" fill="#000"/>
</g>
<g id="inset-data" clip-path="url(#ci)">
<g id="inset-signal" fill="#000" shape-rendering="crispEdges">
<rect x="1169.6" y="178" width="25" height="25"/>
<rect x="1177" y="174" width="25" height="25"/>
<rect x="1177" y="190.6" width="25" height="25"/>
<rect x="1184.4" y="174" width="25" height="25"/>
<rect x="1184.4" y="190.6" width="25" height="25"/>
<rect x="1191.8" y="179.6" width="25" height="25"/>
<rect x="1191.8" y="190.6" width="25" height="25"/>
<rect x="1199.2" y="179.6" width="25" height="25"/>
<rect x="1199.2" y="185" width="25" height="25"/>
<rect x="1206.7" y="179.6" width="25" height="25"/>
<rect x="1206.7" y="185" width="25" height="25"/>
<rect x="1214.1" y="179.6" width="25" height="25"/>
<rect x="1214.1" y="185" width="25" height="25"/>
<rect x="1221.5" y="179.6" width="25" height="25"/>
<rect x="1221.5" y="186.6" width="25" height="25"/>
<rect x="1228.9" y="179" width="25" height="25"/>
<rect x="1228.9" y="186.6" width="25" height="25"/>
<rect x="1236.3" y="182" width="25" height="25"/>
<rect x="1236.3" y="188.6" width="25" height="25"/>
<rect x="1243.7" y="182" width="25" height="25"/>
<rect x="1243.7" y="188.6" width="25" height="25"/>
<rect x="1251.2" y="186" width="25" height="25"/>
<rect x="1251.2" y="194.6" width="25" height="25"/>
<rect x="1258.6" y="186" width="25" height="25"/>
<rect x="1258.6" y="194.6" width="25" height="25"/>
<rect x="1266" y="194.2" width="25" height="25"/>
<rect x="1273.4" y="194.2" width="25" height="25"/>
<rect x="1280.8" y="195.7" width="25" height="25"/>
<rect x="1288.2" y="199.2" width="25" height="25"/>
<rect x="1295.7" y="200.2" width="25" height="25"/>
<rect x="1303.1" y="200.2" width="25" height="25"/>
<rect x="1310.5" y="203.8" width="25" height="25"/>
<rect x="1317.9" y="203.8" width="25" height="25"/>
<rect x="1325.3" y="203.8" width="25" height="25"/>
<rect x="1332.7" y="203" width="25" height="25"/>
<rect x="1332.7" y="206.6" width="25" height="25"/>
<rect x="1340.2" y="203" width="25" height="25"/>
<rect x="1340.2" y="206.6" width="25" height="25"/>
<rect x="1347.6" y="203" width="25" height="25"/>
<rect x="1347.6" y="212.6" width="25" height="25"/>
<rect x="1355" y="203" width="25" height="25"/>
<rect x="1355" y="209" width="25" height="25"/>
<rect x="1362.4" y="203" width="25" height="25"/>
<rect x="1362.4" y="209" width="25" height="25"/>
<rect x="1369.8" y="193" width="25" height="25"/>
<rect x="1369.8" y="209" width="25" height="25"/>
<rect x="1377.2" y="213.7" width="25" height="25"/>
<rect x="1384.7" y="213.7" width="25" height="25"/>
<rect x="1392.1" y="213" width="25" height="25"/>
<rect x="1392.1" y="222" width="25" height="25"/>
<rect x="1399.5" y="213" width="25" height="25"/>
<rect x="1399.5" y="222" width="25" height="25"/>
<rect x="1406.9" y="230.8" width="25" height="25"/>
<rect x="1414.3" y="234" width="25" height="25"/>
<rect x="1414.3" y="246" width="25" height="25"/>
<rect x="1421.7" y="234" width="25" height="25"/>
<rect x="1421.7" y="246" width="25" height="25"/>
<rect x="1429.2" y="234" width="25" height="25"/>
<rect x="1429.2" y="246" width="25" height="25"/>
<rect x="1436.6" y="240.4" width="25" height="25"/>
<rect x="1436.6" y="254" width="25" height="25"/>
<rect x="1444" y="240.4" width="25" height="25"/>
<rect x="1444" y="254" width="25" height="25"/>
<rect x="1451.4" y="240.4" width="25" height="25"/>
<rect x="1451.4" y="254" width="25" height="25"/>
<rect x="1458.8" y="240.4" width="25" height="25"/>
<rect x="1458.8" y="254" width="25" height="25"/>
<rect x="1466.2" y="252" width="25" height="25"/>
<rect x="1466.2" y="263" width="25" height="25"/>
<rect x="1473.7" y="252" width="25" height="25"/>
<rect x="1473.7" y="263" width="25" height="25"/>
<rect x="1481.1" y="256" width="25" height="25"/>
<rect x="1481.1" y="263" width="25" height="25"/>
<rect x="1488.5" y="264" width="25" height="25"/>
<rect x="1495.9" y="266" width="25" height="25"/>
<rect x="1495.9" y="269.4" width="25" height="25"/>
<rect x="1503.3" y="266" width="25" height="25"/>
<rect x="1503.3" y="269.4" width="25" height="25"/>
<rect x="1510.7" y="278.3" width="25" height="25"/>
<rect x="1518.1" y="278.3" width="25" height="25"/>
<rect x="1525.6" y="289.2" width="25" height="25"/>
<rect x="1533" y="289.2" width="25" height="25"/>
<rect x="1540.4" y="298.8" width="25" height="25"/>
<rect x="1547.8" y="305.5" width="25" height="25"/>
<rect x="1555.2" y="305.5" width="25" height="25"/>
<rect x="1562.6" y="320.2" width="25" height="25"/>
<rect x="1570.1" y="321.5" width="25" height="25"/>
<rect x="1577.5" y="328.7" width="25" height="25"/>
<rect x="1584.9" y="331.3" width="25" height="25"/>
<rect x="1592.3" y="339.7" width="25" height="25"/>
<rect x="1599.7" y="339.7" width="25" height="25"/>
<rect x="1607.1" y="348" width="25" height="25"/>
<rect x="1607.1" y="352" width="25" height="25"/>
<rect x="1614.6" y="348" width="25" height="25"/>
<rect x="1614.6" y="352" width="25" height="25"/>
<rect x="1622" y="358" width="25" height="25"/>
<rect x="1622" y="364" width="25" height="25"/>
<rect x="1629.4" y="358" width="25" height="25"/>
<rect x="1629.4" y="364" width="25" height="25"/>
<rect x="1636.8" y="358" width="25" height="25"/>
<rect x="1636.8" y="371" width="25" height="25"/>
<rect x="1644.2" y="348" width="25" height="25"/>
<rect x="1644.2" y="371" width="25" height="25"/>
<rect x="1651.6" y="380.5" width="25" height="25"/>
<rect x="1659.1" y="380.5" width="25" height="25"/>
<rect x="1666.5" y="391" width="25" height="25"/>
<rect x="1666.5" y="396" width="25" height="25"/>
<rect x="1673.9" y="391" width="25" height="25"/>
<rect x="1673.9" y="396" width="25" height="25"/>
<rect x="1681.3" y="420" width="25" height="25"/>
<rect x="1681.3" y="434.6" width="25" height="25"/>
<rect x="1688.7" y="426" width="25" height="25"/>
<rect x="1688.7" y="434.6" width="25" height="25"/>
<rect x="1696.1" y="426" width="25" height="25"/>
<rect x="1696.1" y="454.6" width="25" height="25"/>
<rect x="1703.6" y="426" width="25" height="25"/>
<rect x="1703.6" y="454.6" width="25" height="25"/>
<rect x="1711" y="440" width="25" height="25"/>
<rect x="1711" y="470" width="25" height="25"/>
<rect x="1718.4" y="440" width="25" height="25"/>
<rect x="1718.4" y="467" width="25" height="25"/>
<rect x="1725.8" y="448" width="25" height="25"/>
<rect x="1725.8" y="467" width="25" height="25"/>
<rect x="1733.2" y="448" width="25" height="25"/>
<rect x="1733.2" y="467" width="25" height="25"/>
<rect x="1740.6" y="461" width="25" height="25"/>
<rect x="1740.6" y="479.6" width="25" height="25"/>
<rect x="1748.1" y="461" width="25" height="25"/>
<rect x="1748.1" y="472" width="25" height="25"/>
<rect x="1755.5" y="467" width="25" height="25"/>
<rect x="1755.5" y="472" width="25" height="25"/>
<rect x="1762.9" y="471" width="25" height="25"/>
<rect x="1770.3" y="471" width="25" height="25"/>
<rect x="1777.7" y="473" width="25" height="25"/>
<rect x="1785.1" y="478.8" width="25" height="25"/>
<rect x="1792.6" y="485.8" width="25" height="25"/>
<rect x="1800" y="485.8" width="25" height="25"/>
<rect x="1807.4" y="487" width="25" height="25"/>
<rect x="1807.4" y="498.6" width="25" height="25"/>
<rect x="1814.8" y="487" width="25" height="25"/>
<rect x="1814.8" y="498.6" width="25" height="25"/>
<rect x="1822.2" y="492" width="25" height="25"/>
<rect x="1822.2" y="513" width="25" height="25"/>
<rect x="1829.6" y="492" width="25" height="25"/>
<rect x="1829.6" y="513" width="25" height="25"/>
<rect x="1837.1" y="506" width="25" height="25"/>
<rect x="1837.1" y="521.6" width="25" height="25"/>
<rect x="1844.5" y="506" width="25" height="25"/>
<rect x="1844.5" y="521.6" width="25" height="25"/>
<rect x="1851.9" y="513" width="25" height="25"/>
<rect x="1851.9" y="527.6" width="25" height="25"/>
<rect x="1859.3" y="513" width="25" height="25"/>
<rect x="1859.3" y="527.6" width="25" height="25"/>
<rect x="1866.7" y="514" width="25" height="25"/>
<rect x="1866.7" y="536" width="25" height="25"/>
<rect x="1874.1" y="514" width="25" height="25"/>
<rect x="1874.1" y="536" width="25" height="25"/>
<rect x="1881.5" y="520" width="25" height="25"/>
<rect x="1881.5" y="544.6" width="25" height="25"/>
<rect x="1889" y="520" width="25" height="25"/>
<rect x="1889" y="544.6" width="25" height="25"/>
<rect x="1896.4" y="524" width="25" height="25"/>
<rect x="1896.4" y="549.6" width="25" height="25"/>
<rect x="1903.8" y="524" width="25" height="25"/>
<rect x="1903.8" y="547" width="25" height="25"/>
<rect x="1911.2" y="524" width="25" height="25"/>
<rect x="1911.2" y="547" width="25" height="25"/>
<rect x="1918.6" y="518" width="25" height="25"/>
<rect x="1918.6" y="547" width="25" height="25"/>
<rect x="1926" y="534" width="25" height="25"/>
<rect x="1926" y="551" width="25" height="25"/>
<rect x="1933.5" y="534" width="25" height="25"/>
<rect x="1933.5" y="547" width="25" height="25"/>
<rect x="1940.9" y="539" width="25" height="25"/>
<rect x="1940.9" y="547" width="25" height="25"/>
<rect x="1948.3" y="539" width="25" height="25"/>
<rect x="1948.3" y="547" width="25" height="25"/>
<rect x="1955.7" y="563.8" width="25" height="25"/>
<rect x="1963.1" y="565.1" width="25" height="25"/>
<rect x="1970.5" y="565.6" width="25" height="25"/>
<rect x="1970.5" y="569.6" width="25" height="25"/>
<rect x="1978" y="565.6" width="25" height="25"/>
<rect x="1978" y="569.6" width="25" height="25"/>
<rect x="1985.4" y="568" width="25" height="25"/>
<rect x="1985.4" y="594" width="25" height="25"/>
<rect x="1992.8" y="568" width="25" height="25"/>
<rect x="1992.8" y="588" width="25" height="25"/>
<rect x="2000.2" y="568" width="25" height="25"/>
<rect x="2000.2" y="588" width="25" height="25"/>
<rect x="2007.6" y="564" width="25" height="25"/>
<rect x="2007.6" y="588" width="25" height="25"/>
<rect x="2015" y="564" width="25" height="25"/>
<rect x="2015" y="592.6" width="25" height="25"/>
<rect x="2022.5" y="550" width="25" height="25"/>
<rect x="2022.5" y="591" width="25" height="25"/>
<rect x="2029.9" y="559" width="25" height="25"/>
<rect x="2029.9" y="591" width="25" height="25"/>
<rect x="2037.3" y="559" width="25" height="25"/>
<rect x="2037.3" y="591" width="25" height="25"/>
<rect x="2044.7" y="573" width="25" height="25"/>
<rect x="2044.7" y="596.6" width="25" height="25"/>
<rect x="2052.1" y="573" width="25" height="25"/>
<rect x="2052.1" y="596.6" width="25" height="25"/>
<rect x="2059.5" y="573" width="25" height="25"/>
<rect x="2059.5" y="607" width="25" height="25"/>
<rect x="2067" y="573" width="25" height="25"/>
<rect x="2067" y="607" width="25" height="25"/>
<rect x="2074.4" y="573" width="25" height="25"/>
<rect x="2074.4" y="615" width="25" height="25"/>
</g>
<polyline id="inset-filtered" points="1174.7,189 1178.4,189.8 1182.1,190.5 1185.8,191.3 1189.5,192 1193.2,192.7 1196.9,193.5 1200.6,194.2 1204.3,194.9 1208,195.6 1211.7,196.2 1215.5,196.9 1219.2,197.6 1222.9,198.2 1226.6,198.9 1230.3,199.5 1234,200.2 1237.7,200.8 1241.4,201.4 1245.1,202 1248.8,202.6 1252.5,203.2 1256.2,203.8 1260,204.4 1263.7,205 1267.4,205.7 1271.1,206.3 1274.8,206.9 1278.5,207.5 1282.2,208.1 1285.9,208.7 1289.6,209.4 1293.3,210 1297,210.6 1300.7,211.3 1304.5,212 1308.2,212.7 1311.9,213.4 1315.6,214.1 1319.3,214.8 1323,215.6 1326.7,216.4 1330.4,217.2 1334.1,218 1337.8,218.8 1341.5,219.7 1345.2,220.5 1349,221.4 1352.7,222.3 1356.4,223.2 1360.1,224.2 1363.8,225.2 1367.5,226.2 1371.2,227.2 1374.9,228.2 1378.6,229.3 1382.3,230.4 1386,231.5 1389.7,232.6 1393.4,233.8 1397.2,235 1400.9,236.2 1404.6,237.5 1408.3,238.7 1412,240 1415.7,241.4 1419.4,242.7 1423.1,244.1 1426.8,245.6 1430.5,247 1434.2,248.5 1437.9,250 1441.7,251.6 1445.4,253.2 1449.1,254.8 1452.8,256.4 1456.5,258.1 1460.2,259.8 1463.9,261.6 1467.6,263.4 1471.3,265.2 1475,267.1 1478.7,269 1482.4,270.9 1486.2,272.9 1489.9,274.9 1493.6,276.9 1497.3,279 1501,281.2 1504.7,283.3 1508.4,285.5 1512.1,287.8 1515.8,290.1 1519.5,292.4 1523.2,294.8 1526.9,297.2 1530.6,299.6 1534.4,302 1538.1,304.5 1541.8,307.1 1545.5,309.6 1549.2,312.2 1552.9,314.8 1556.6,317.4 1560.3,320.1 1564,322.7 1567.7,325.4 1571.4,328.2 1575.1,330.9 1578.9,333.7 1582.6,336.5 1586.3,339.3 1590,342.1 1593.7,344.9 1597.4,347.7 1601.1,350.6 1604.8,353.5 1608.5,356.4 1612.2,359.3 1615.9,362.2 1619.6,365.1 1623.4,368 1627.1,370.9 1630.8,373.9 1634.5,376.8 1638.2,379.8 1641.9,382.7 1645.6,385.7 1649.3,388.6 1653,391.5 1656.7,394.5 1660.4,397.4 1664.1,400.4 1667.9,403.3 1671.6,406.2 1675.3,409.2 1679,412.1 1682.7,415 1686.4,417.9 1690.1,420.7 1693.8,423.6 1697.5,426.4 1701.2,429.2 1704.9,432 1708.6,434.8 1712.3,437.5 1716.1,440.2 1719.8,442.9 1723.5,445.6 1727.2,448.2 1730.9,450.8 1734.6,453.3 1738.3,455.8 1742,458.3 1745.7,460.8 1749.4,463.2 1753.1,465.6 1756.8,468 1760.6,470.3 1764.3,472.6 1768,474.9 1771.7,477.2 1775.4,479.4 1779.1,481.6 1782.8,483.7 1786.5,485.9 1790.2,488 1793.9,490.1 1797.6,492.1 1801.3,494.2 1805.1,496.2 1808.8,498.2 1812.5,500.2 1816.2,502.1 1819.9,504 1823.6,505.9 1827.3,507.8 1831,509.6 1834.7,511.5 1838.4,513.3 1842.1,515.1 1845.8,516.8 1849.6,518.6 1853.3,520.3 1857,522 1860.7,523.7 1864.4,525.4 1868.1,527.1 1871.8,528.7 1875.5,530.3 1879.2,532 1882.9,533.6 1886.6,535.1 1890.3,536.7 1894,538.2 1897.8,539.8 1901.5,541.3 1905.2,542.8 1908.9,544.3 1912.6,545.8 1916.3,547.3 1920,548.8 1923.7,550.3 1927.4,551.7 1931.1,553.2 1934.8,554.7 1938.5,556.1 1942.3,557.6 1946,559.1 1949.7,560.6 1953.4,562 1957.1,563.5 1960.8,565 1964.5,566.5 1968.2,568 1971.9,569.5 1975.6,571.1 1979.3,572.6 1983,574.2 1986.8,575.7 1990.5,577.3 1994.2,578.9 1997.9,580.6 2001.6,582.2 2005.3,583.9 2009,585.5 2012.7,587.2 2016.4,589 2020.1,590.7 2023.8,592.5 2027.5,594.3 2031.3,596.2 2035,598 2038.7,599.9 2042.4,601.9 2046.1,603.8 2049.8,605.8 2053.5,607.9 2057.2,609.9 2060.9,612 2064.6,614.1 2068.3,616.3 2072,618.4 2075.7,620.6 2079.5,622.8 2083.2,625.1 2086.9,627.3 2090.6,629.6 2094.3,631.9" fill="none" stroke="#f00" stroke-width="14" stroke-linejoin="round"/>
</g>
<g id="legend">
<rect x="232.4" y="66" width="941.6" height="173.6" fill="#fff" stroke="#000" stroke-width="3" shape-rendering="crispEdges"/>
<rect x="278.8" y="116.5" width="148.2" height="8.6" fill="#000" shape-rendering="crispEdges"/>
<rect x="342" y="110" width="22" height="21.5" fill="#000" shape-rendering="crispEdges"/>
<rect x="278.8" y="198" width="148.2" height="8.6" fill="#f00" shape-rendering="crispEdges"/>
<circle cx="353" cy="202" r="11.6" fill="#f00"/>
<text class="se" transform="translate(444.4 144.2) scale(0.9780 1)" font-size="66">Signal</text>
<text transform="translate(444.2 224.7)" font-size="66"><tspan class="sa" font-size="71">F</tspan><tspan class="se" dx="-1.5" textLength="667.5" lengthAdjust="spacingAndGlyphs">ast coarse-tuning filtering</tspan></text>
</g>
<rect x="202" y="59" width="1901.8" height="10.8" fill="#000" shape-rendering="crispEdges"/>
<g id="main-labels" fill="#000">
<text class="sa" transform="translate(159.3 80.2)" font-size="55" text-anchor="end" textLength="76" lengthAdjust="spacing">3.0</text>
<text class="sa" transform="translate(159.3 243.3)" font-size="55" text-anchor="end" textLength="76" lengthAdjust="spacing">2.8</text>
<text class="sa" transform="translate(159.3 406.4)" font-size="55" text-anchor="end" textLength="76" lengthAdjust="spacing">2.6</text>
<text class="sa" transform="translate(159.3 569.4)" font-size="55" text-anchor="end" textLength="76" lengthAdjust="spacing">2.4</text>
<text class="sa" transform="translate(159.3 732.5)" font-size="55" text-anchor="end" textLength="76" lengthAdjust="spacing">2.2</text>
<text class="sa" transform="translate(159.3 895.6)" font-size="55" text-anchor="end" textLength="76" lengthAdjust="spacing">2.0</text>
<text class="sa" transform="translate(159.3 1058.7)" font-size="55" text-anchor="end" textLength="76" lengthAdjust="spacing">1.8</text>
<text class="sa" transform="translate(159.3 1221.8)" font-size="55" text-anchor="end" textLength="76" lengthAdjust="spacing">1.6</text>
<text class="sa" transform="translate(159.3 1384.8)" font-size="55" text-anchor="end" textLength="76" lengthAdjust="spacing">1.4</text>
<text class="sa" transform="translate(208 1541.2)" font-size="55" text-anchor="middle" textLength="30.6" lengthAdjust="spacing">0</text>
<text class="sa" transform="translate(659.4 1541.2)" font-size="55" text-anchor="middle" textLength="93.2" lengthAdjust="spacing">100</text>
<text class="sa" transform="translate(1110.8 1541.2)" font-size="55" text-anchor="middle" textLength="93.2" lengthAdjust="spacing">200</text>
<text class="sa" transform="translate(1562.3 1541.2)" font-size="55" text-anchor="middle" textLength="93.2" lengthAdjust="spacing">300</text>
<text class="sa" transform="translate(2013.7 1541.2)" font-size="55" text-anchor="middle" textLength="93.2" lengthAdjust="spacing">400</text>
<text class="se" transform="translate(1008.6 1615.7) scale(0.9727 1)" font-size="77">Sample points</text>
<text class="se" transform="translate(68.3 1002.5) rotate(-90) scale(0.9300 1)" font-size="81">Signal intensity</text>
</g>
<g id="inset-labels" fill="#000">
<text class="sa" transform="translate(1163.5 369.1)" font-size="25.5" text-anchor="end">2.1</text>
<text class="sa" transform="translate(1163.5 551.8)" font-size="25.5" text-anchor="end">2.0</text>
<text class="sa" transform="translate(1163.5 734.6)" font-size="25.5" text-anchor="end">1.9</text>
<text class="sa" transform="translate(1189.5 768)" font-size="25.5" text-anchor="middle">180</text>
<text class="sa" transform="translate(1337.8 768)" font-size="25.5" text-anchor="middle">200</text>
<text class="sa" transform="translate(1486.2 768)" font-size="25.5" text-anchor="middle">220</text>
<text class="sa" transform="translate(1634.5 768)" font-size="25.5" text-anchor="middle">240</text>
<text class="sa" transform="translate(1782.8 768)" font-size="25.5" text-anchor="middle">260</text>
<text class="sa" transform="translate(1931.1 768)" font-size="25.5" text-anchor="middle">280</text>
<text class="sa" transform="translate(2079.5 768)" font-size="25.5" text-anchor="middle">300</text>
<text class="sa" transform="translate(1588.5 775.4)" font-size="29" text-anchor="middle">N</text>
<text class="se" transform="translate(1109.1 464.2) rotate(-90) scale(0.9650 1)" font-size="33">Signal intensity</text>
</g>
</svg>
</body>
</html>
